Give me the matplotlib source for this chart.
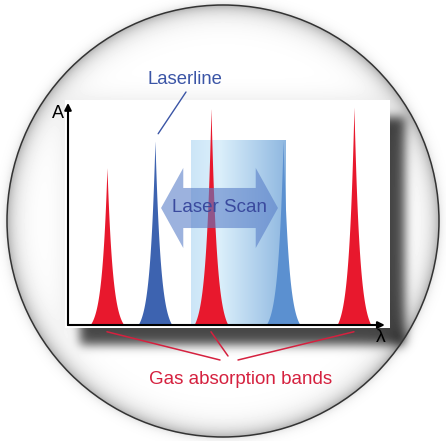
import numpy as np
import matplotlib
matplotlib.use('Agg')
import matplotlib.pyplot as plt
from matplotlib.patches import Circle, Rectangle, Polygon

plt.rcParams['font.family'] = ['Liberation Sans', 'DejaVu Sans']

W, H = 446, 441

# 数据：气体吸收峰和激光线 (λ 任意单位, A 归一化)
gas_pos = [1.21, 4.44, 8.88]
gas_amp = [0.70, 0.965, 0.97]
laser_pos = [2.70, 6.68]   # 扫描起点 / 终点的激光线
laser_amp = [0.82, 0.82]
scan_box = [3.82, 6.74]    # 扫描区域
scan_arrow = [2.89, 6.52]  # 双向箭头的两端
arrow_y = 0.52

peak_w = 0.17
peak_cut = 0.53

red = '#e8182d'
blue1 = '#3d63b0'
blue2 = '#5b90d0'
label_red = '#d5213f'
label_blue = '#3b55a6'


def peak(x, c, a):
    base = np.exp(-peak_cut / peak_w)
    y = (np.exp(-np.abs(x - c) / peak_w) - base) / (1 - base)
    return a * np.clip(y, 0, None)


def blur(img, sigma):
    k = np.arange(-3 * sigma, 3 * sigma + 1)
    k = np.exp(-k ** 2 / (2 * sigma ** 2))
    k = k / k.sum()
    out = np.array([np.convolve(row, k, mode='same') for row in img])
    out = np.array([np.convolve(col, k, mode='same') for col in out.T]).T
    return out


fig = plt.figure(figsize=(W / 100, H / 100), dpi=100)

# 背景：圆形内阴影 + 面板投影
ax_bg = fig.add_axes([0, 0, 1, 1])
ax_bg.set_xlim(0, W)
ax_bg.set_ylim(H, 0)
ax_bg.axis('off')

yy, xx = np.mgrid[0:H, 0:W] + 0.5
cx, cy, R = 223, 221, 216
r = np.hypot(xx - cx, yy - cy)
bg = np.ones((H, W))
inside = r < R
bg[inside] -= 0.30 * np.exp(-(R - r[inside]) / 9)
bg[~inside] -= 0.12 * np.exp(-(r[~inside] - R) / 4)

mask = np.zeros((H, W))
mask[117:345, 80:405] = 1
bg -= 0.68 * blur(mask, 5)
mask2 = np.zeros((H, W))
mask2[100:328, 65:390] = 1
bg -= 0.10 * blur(mask2, 12)
bg = np.clip(bg, 0, 1)
ax_bg.imshow(bg, cmap='gray', vmin=0, vmax=1, extent=[0, W, H, 0], zorder=0)

ax_bg.add_patch(Circle((cx, cy), R, fill=False, ec='#333333', lw=1.1, zorder=1))
ax_bg.add_patch(Rectangle((65, 100), 325, 228, fc='white', ec='none', zorder=2))

ax_bg.text(185, 79, 'Laserline', color=label_blue, fontsize=13.3,
           ha='center', va='center', zorder=3)
ax_bg.text(241, 380, 'Gas absorption bands', color=label_red, fontsize=13.5,
           ha='center', va='center', zorder=3)
ax_bg.text(58, 113, 'A', color='black', fontsize=13, ha='center', va='center', zorder=3)
ax_bg.text(381, 338, 'λ', color='black', fontsize=14, ha='center', va='center', zorder=3)

# 图表区域
ax = fig.add_axes([68 / W, (H - 325) / H, 322 / W, 225 / H])
ax.set_xlim(0, 10)
ax.set_ylim(0, 1)
ax.axis('off')
ax.patch.set_alpha(0)

x = np.linspace(0, 10, 5000)

# 扫描区域渐变
grad = np.linspace(0, 1, 256)
c0 = np.array([0.80, 0.90, 0.97])
c1 = np.array([0.86, 0.94, 0.985])
c2 = np.array([0.56, 0.72, 0.88])
cols = np.where(grad[:, None] < 0.3,
                c0 + (c1 - c0) * (grad[:, None] / 0.3),
                c1 + (c2 - c1) * ((grad[:, None] - 0.3) / 0.7))
ax.imshow(cols[None, :, :], extent=[scan_box[0], scan_box[1], 0, laser_amp[1]],
          aspect='auto', zorder=1)

# 激光线
for p, a, c in zip(laser_pos, laser_amp, [blue1, blue2]):
    y = peak(x, p, a)
    ax.fill_between(x, 0, y, where=y > 0, color=c, lw=0, zorder=2)

# 气体吸收峰
for p, a in zip(gas_pos, gas_amp):
    y = peak(x, p, a)
    ax.fill_between(x, 0, y, where=y > 0, color=red, lw=0, zorder=3)

# 双向箭头
hl = 0.69
sh = 0.089
hh = 0.178
l, rr = scan_arrow
verts = [(l, arrow_y), (l + hl, arrow_y + hh), (l + hl, arrow_y + sh),
         (rr - hl, arrow_y + sh), (rr - hl, arrow_y + hh), (rr, arrow_y),
         (rr - hl, arrow_y - hh), (rr - hl, arrow_y - sh), (l + hl, arrow_y - sh),
         (l + hl, arrow_y - hh)]
ax.add_patch(Polygon(verts, closed=True, fc='#5a7fc8', ec='none', alpha=0.6, zorder=4))
ax.text((l + rr) / 2, arrow_y, 'Laser Scan', color='#3a4a9e', fontsize=13.5,
        ha='center', va='center', zorder=5)

# 坐标轴箭头
ax.annotate('', xy=(0, 0.987), xytext=(0, 0),
            arrowprops=dict(arrowstyle='-|>', color='black', lw=1.5,
                            mutation_scale=10, shrinkA=0, shrinkB=0),
            annotation_clip=False, zorder=6)
ax.annotate('', xy=(9.84, 0), xytext=(0, 0),
            arrowprops=dict(arrowstyle='-|>', color='black', lw=1.5,
                            mutation_scale=10, shrinkA=0, shrinkB=0),
            annotation_clip=False, zorder=6)

# 标注线
ax.annotate('', xy=(laser_pos[0] + 0.1, laser_amp[0] + 0.03), xytext=(186, 92),
            textcoords=ax_bg.transData,
            arrowprops=dict(arrowstyle='-', color=label_blue, lw=1,
                            shrinkA=0, shrinkB=0),
            annotation_clip=False)
ends = [(220, 360), (228, 356), (238, 360)]
for p, e in zip(gas_pos, ends):
    ax.annotate('', xy=(p, -0.03), xytext=e, textcoords=ax_bg.transData,
                arrowprops=dict(arrowstyle='-', color=label_red, lw=1.1,
                                shrinkA=0, shrinkB=0),
                annotation_clip=False)

plt.savefig('out.png', dpi=100)
